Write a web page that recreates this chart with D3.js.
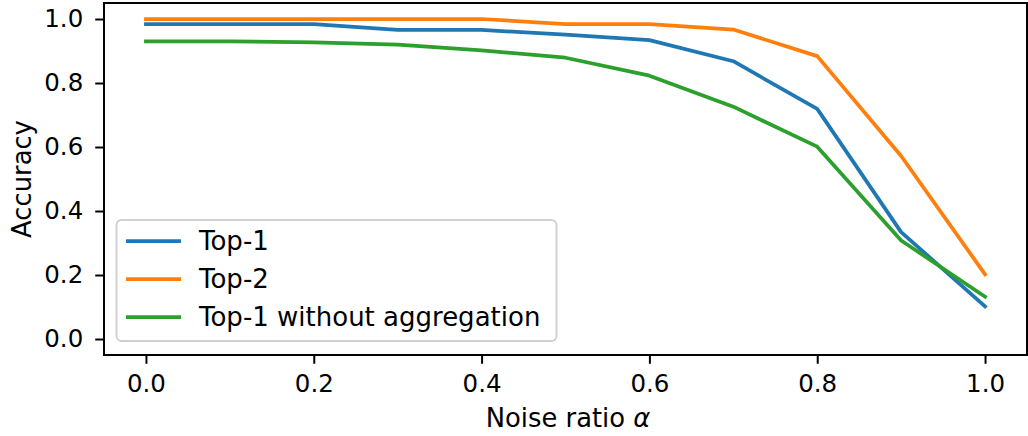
<!DOCTYPE html>
<html>
<head>
<meta charset="utf-8">
<script src="https://cdn.jsdelivr.net/npm/d3@7"></script>
<style>
  html, body { margin: 0; padding: 0; background: #fff; }
  svg { display: block; }
  text { font-family: "DejaVu Sans", sans-serif; fill: #000; }
</style>
</head>
<body>
<svg id="chart" width="1028" height="436"></svg>
<script>
const noiseRatio = [0.0, 0.1, 0.2, 0.3, 0.4, 0.5, 0.6, 0.7, 0.8, 0.9, 1.0];
const top1 = [0.984, 0.984, 0.984, 0.966, 0.966, 0.951, 0.934, 0.868, 0.719, 0.334, 0.102];
const top2 = [1.0, 1.0, 1.0, 1.0, 1.0, 0.984, 0.984, 0.967, 0.884, 0.572, 0.202];
const top1NoAgg = [0.930, 0.930, 0.927, 0.920, 0.902, 0.879, 0.823, 0.726, 0.601, 0.308, 0.132];
const seriesNames = ["Top-1", "Top-2", "Top-1 without aggregation"];
const xTicks = [0.0, 0.2, 0.4, 0.6, 0.8, 1.0];
const yTicks = [0.0, 0.2, 0.4, 0.6, 0.8, 1.0];
const colors = ["#1f77b4", "#ff7f0e", "#2ca02c"];

const series = [top1, top2, top1NoAgg].map((vals, i) => ({
  name: seriesNames[i], color: colors[i],
  points: vals.map((v, j) => [noiseRatio[j], v])
}));

const svg = d3.select("#chart");
const L = 104, R = 1027, T = 3, B = 355;
const x = d3.scaleLinear().domain([-0.05, 1.05]).range([L, R]);
const y = d3.scaleLinear().domain([-0.05, 1.05]).range([B, T]);
const tickFs = 24.5, labelFs = 25.8, legendFs = 26;

// lines
const line = d3.line().x(d => x(d[0])).y(d => y(d[1]));
svg.append("g").selectAll("path").data(series).join("path")
  .attr("d", d => line(d.points))
  .attr("fill", "none")
  .attr("stroke", d => d.color)
  .attr("stroke-width", 3.75)
  .attr("stroke-linejoin", "round")
  .attr("stroke-linecap", "square");

// axes
const xAxis = svg.append("g").attr("transform", `translate(0,${B})`)
  .call(d3.axisBottom(x).tickValues(xTicks).tickFormat(d3.format(".1f")).tickSize(8.75).tickPadding(11));
const yAxis = svg.append("g").attr("transform", `translate(${L},0)`)
  .call(d3.axisLeft(y).tickValues(yTicks).tickFormat(d3.format(".1f")).tickSize(8.75).tickPadding(12));
[xAxis, yAxis].forEach(g => {
  g.select(".domain").remove();
  g.selectAll(".tick line").attr("stroke", "#000").attr("stroke-width", 2);
  g.selectAll(".tick text").attr("font-size", tickFs).attr("font-family", "DejaVu Sans").attr("fill", "#000");
});

// frame (spines)
svg.append("rect").attr("x", L).attr("y", T).attr("width", R - L).attr("height", B - T)
  .attr("fill", "none").attr("stroke", "#000").attr("stroke-width", 2);

// axis labels
const xl = svg.append("text").attr("x", 568).attr("y", 427)
  .attr("text-anchor", "middle").attr("font-size", labelFs);
xl.append("tspan").text("Noise ratio ");
xl.append("tspan").attr("font-style", "italic").text("α");

svg.append("text").attr("transform", `translate(31,${179}) rotate(-90)`)
  .attr("text-anchor", "middle").attr("font-size", labelFs).text("Accuracy");

// legend
const lg = svg.append("g");
lg.append("rect").attr("x", 116.5).attr("y", 220).attr("width", 440).attr("height", 121)
  .attr("rx", 5).attr("fill", "#fff").attr("fill-opacity", 0.8)
  .attr("stroke", "#d0d0d0").attr("stroke-width", 2);
const rows = lg.selectAll("g.row").data(series).join("g").attr("class", "row")
  .attr("transform", (d, i) => `translate(0,${241 + i * 38})`);
rows.append("line").attr("x1", 126).attr("x2", 181).attr("y1", 0).attr("y2", 0)
  .attr("stroke", d => d.color).attr("stroke-width", 3.75);
rows.append("text").attr("x", 199).attr("y", 0).attr("dy", "0.36em")
  .attr("font-size", legendFs).text(d => d.name);
</script>
</body>
</html>
